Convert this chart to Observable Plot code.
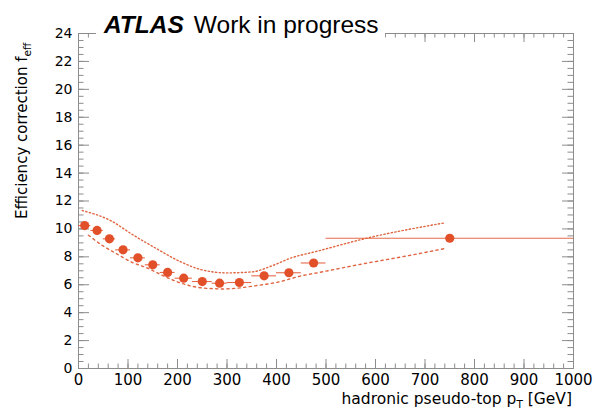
<!DOCTYPE html>
<html>
<head>
<meta charset="utf-8">
<script src="https://cdn.jsdelivr.net/npm/d3@7"></script>
<script src="https://cdn.jsdelivr.net/npm/@observablehq/plot@0.6"></script>
<style>
  body { margin: 0; background: #fff; }
  #wrap { position: relative; width: 596px; height: 414px; overflow: hidden; }
  #atlas {
    position: absolute; left: 96px; top: 7px; height: 36px;
    padding: 0 6px 0 8px; background: #fff;
    font-family: "Liberation Sans", Arial, sans-serif; font-size: 24.5px; line-height: 36px; color: #000;
  }
  #atlas b { font-style: italic; font-weight: bold; margin-right: 10px; }
</style>
</head>
<body>
<div id="wrap"></div>
<script>
// Hadronic pseudo-top pT bins and the efficiency correction in each bin
const binLo     = [0, 25, 50, 75, 105, 135, 165, 195, 230, 270, 300, 350, 400, 450, 500];
const binHi     = [25, 50, 75, 105, 135, 165, 195, 230, 270, 300, 350, 400, 450, 500, 1000];
const binCenter = [12.5, 37.5, 62.5, 90, 120, 150, 180, 212.5, 250, 285, 325, 375, 425, 475, 750];
const effCorr   = [10.24, 9.89, 9.29, 8.50, 7.93, 7.43, 6.88, 6.47, 6.23, 6.11, 6.16, 6.64, 6.86, 7.56, 9.33];

// Upper and lower envelope curves
const upperPt  = [7.5, 64.6, 111, 152, 206, 246, 300, 350, 394, 428, 482, 584, 741];
const upperVal = [11.32, 10.60, 9.55, 8.70, 7.65, 7.10, 6.85, 6.92, 7.40, 7.90, 8.40, 9.35, 10.44];
const lowerPt  = [20, 51, 75, 108, 139, 166, 199, 226, 260, 293, 362, 402, 448, 489, 578, 646, 741];
const lowerVal = [9.55, 8.75, 8.26, 7.61, 7.20, 6.73, 6.22, 5.92, 5.74, 5.70, 5.95, 6.18, 6.62, 6.90, 7.52, 7.95, 8.60];

// Axis ticks
const xMajor = d3.range(0, 1001, 100);
const xMinor = d3.range(0, 1001, 20);
const yMajor = d3.range(0, 25, 2);
const yMinor = d3.range(0, 24.01, 0.5);

const points = binCenter.map((pt, i) => ({pt, lo: binLo[i], hi: binHi[i], eff: effCorr[i]}));
const upper = upperPt.map((pt, i) => ({pt, v: upperVal[i]}));
const lower = lowerPt.map((pt, i) => ({pt, v: lowerVal[i]}));

const red = "#e2502a";
const band = "#e0643f";
const ink = "#8c8c8c";
const font = "DejaVu Sans, sans-serif";

const W = 596, H = 414;
const M = {top: 33, right: 23, bottom: 46, left: 78};
const plotW = W - M.left - M.right;
const plotH = H - M.top - M.bottom;

// Inward-pointing ticks drawn as rules inset from the opposite side of the frame
const ticksBottom = (t, len) => Plot.ruleX(t, {insetTop: plotH - len, stroke: ink});
const ticksTop    = (t, len) => Plot.ruleX(t, {insetBottom: plotH - len, stroke: ink});
const ticksLeft   = (t, len) => Plot.ruleY(t, {insetRight: plotW - len, stroke: ink});
const ticksRight  = (t, len) => Plot.ruleY(t, {insetLeft: plotW - len, stroke: ink});

const chart = Plot.plot({
  width: W,
  height: H,
  marginLeft: M.left,
  marginRight: M.right,
  marginTop: M.top,
  marginBottom: M.bottom,
  style: {fontFamily: font, background: "#fff", color: "#000"},
  x: {domain: [0, 1000]},
  y: {domain: [0, 24]},
  marks: [
    Plot.frame({stroke: ink}),
    ticksBottom(xMinor, 4.5), ticksBottom(xMajor, 9),
    ticksTop(xMinor, 4.5), ticksTop(xMajor, 9),
    ticksLeft(yMinor, 5.5), ticksLeft(yMajor, 11),
    ticksRight(yMinor, 5.5), ticksRight(yMajor, 11),
    // tick labels
    Plot.axisX({anchor: "bottom", ticks: xMajor, tickSize: 0, tickPadding: 6, label: null, fontSize: 15, tickFormat: d3.format("d")}),
    Plot.axisY({anchor: "left", ticks: yMajor, tickSize: 0, tickPadding: 6, label: null, fontSize: 14, tickFormat: d3.format("d")}),
    // envelope curves
    Plot.line(upper, {x: "pt", y: "v", curve: "monotone-x", stroke: band, strokeWidth: 1.4, strokeDasharray: "1.3,2.4"}),
    Plot.line(lower, {x: "pt", y: "v", curve: "monotone-x", stroke: band, strokeWidth: 1.4, strokeDasharray: "2.2,3.4"}),
    // bin widths and central values
    Plot.ruleY(points, {y: "eff", x1: "lo", x2: "hi", stroke: red, strokeWidth: 1.1, strokeOpacity: 0.85}),
    Plot.dot(points, {x: "pt", y: "eff", r: 4.6, fill: red, stroke: "none"})
  ]
});

const svg = d3.select(chart);

// x-axis title with subscript
const xt = svg.append("text")
  .attr("x", 572).attr("y", 404)
  .attr("text-anchor", "end")
  .attr("font-family", font).attr("font-size", 15.5).attr("fill", "#000");
xt.append("tspan").text("hadronic pseudo-top p");
xt.append("tspan").attr("font-size", 10.5).attr("dy", 4).text("T");
xt.append("tspan").attr("dy", -4).text(" [GeV]");

// y-axis title with subscript, reading upwards from the bottom
const yt = svg.append("text")
  .attr("transform", "translate(27,219) rotate(-90)")
  .attr("text-anchor", "start")
  .attr("font-family", font).attr("font-size", 15).attr("fill", "#000");
yt.append("tspan").text("Efficiency correction f");
yt.append("tspan").attr("font-size", 10.5).attr("dy", 4).text("eff");

const wrap = document.getElementById("wrap");
wrap.appendChild(chart);
const title = document.createElement("div");
title.id = "atlas";
title.innerHTML = "<b>ATLAS</b>Work in progress";
wrap.appendChild(title);
</script>
</body>
</html>
